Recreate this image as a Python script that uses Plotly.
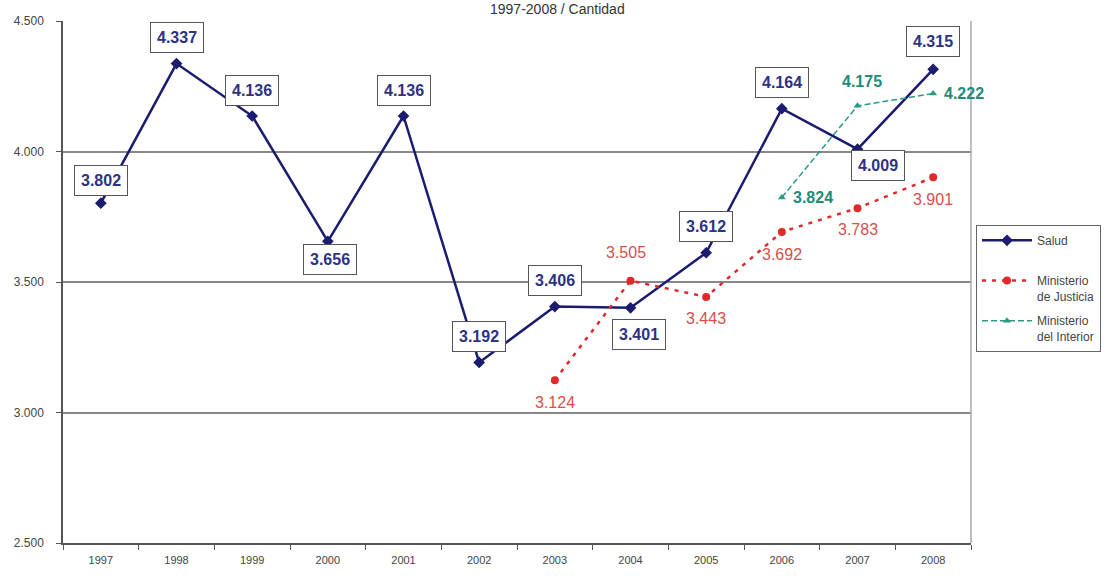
import plotly.graph_objects as go

years = ["1997", "1998", "1999", "2000", "2001", "2002", "2003", "2004", "2005", "2006", "2007", "2008"]
salud = [3802, 4337, 4136, 3656, 4136, 3192, 3406, 3401, 3612, 4164, 4009, 4315]
justicia_years = ["2003", "2004", "2005", "2006", "2007", "2008"]
justicia = [3124, 3505, 3443, 3692, 3783, 3901]
interior_years = ["2006", "2007", "2008"]
interior = [3824, 4175, 4222]
ytick_vals = [2500, 3000, 3500, 4000, 4500]

NAVY = "#1B1B70"
RED = "#E02A2A"
TEAL = "#2A9A88"
LBL_RED = "#D5504C"
LBL_TEAL = "#1F8C78"
FONT = "Liberation Sans, Arial"


def fmt(v):
    return f"{v:,}".replace(",", ".")


fig = go.Figure()
fig.add_trace(go.Scatter(
    x=years, y=salud, name="Salud<br> ", mode="lines+markers",
    line=dict(color=NAVY, width=2.5),
    marker=dict(symbol="diamond", size=9, color=NAVY),
    legendgroup="a",
))
fig.add_trace(go.Scatter(
    x=justicia_years, y=justicia, name="Ministerio<br>de Justicia", mode="lines+markers",
    line=dict(color=RED, width=2.5, dash="4px,6px"),
    marker=dict(symbol="circle", size=8, color=RED),
    legendgroup="b",
))
fig.add_trace(go.Scatter(
    x=interior_years, y=interior, name="Ministerio<br>del Interior", mode="lines+markers",
    line=dict(color=TEAL, width=1.5, dash="6px,3px"),
    marker=dict(symbol="triangle-up", size=7, color=TEAL),
    legendgroup="c",
))

# label offsets (pixels) for Salud boxes: (xshift, yshift)
salud_shift = [(0, 23), (0, 26), (0, 26), (2, -18), (0, 26), (0, 26),
               (0, 26), (8, -27), (0, 26), (0, 26), (20, -16), (0, 28)]
annotations = []
for yr, v, (dx, dy) in zip(years, salud, salud_shift):
    annotations.append(dict(
        x=years.index(yr), y=v, text=fmt(v), showarrow=False, xshift=dx, yshift=dy,
        font=dict(family=FONT, size=16, color="#2E3282", weight="bold"),
        bgcolor="white", bordercolor="#555555", borderwidth=1, borderpad=6,
    ))

just_shift = [(0, -22), (-5, 28), (0, -22), (0, -23), (0, -21), (0, -22)]
for yr, v, (dx, dy) in zip(justicia_years, justicia, just_shift):
    annotations.append(dict(
        x=years.index(yr), y=v, text=fmt(v), showarrow=False, xshift=dx, yshift=dy,
        font=dict(family=FONT, size=16, color=LBL_RED),
    ))

int_shift = [(9, 0, "left"), (4, 24, "center"), (9, 0, "left")]
for yr, v, (dx, dy, xa) in zip(interior_years, interior, int_shift):
    annotations.append(dict(
        x=years.index(yr), y=v, text=fmt(v), showarrow=False, xshift=dx, yshift=dy, xanchor=xa,
        font=dict(family=FONT, size=16, color=LBL_TEAL, weight="bold"),
    ))

annotations.append(dict(
    xref="paper", yref="paper", x=(557 - 63) / 908, y=1, yshift=12, yanchor="middle",
    text="1997-2008 / Cantidad", showarrow=False,
    font=dict(family=FONT, size=14, color="#333333"),
))

fig.update_layout(
    width=1114, height=576,
    margin=dict(l=63, r=143, t=21, b=33),
    paper_bgcolor="white", plot_bgcolor="white",
    separators=",.",
    font=dict(family=FONT, size=11, color="#444444"),
    showlegend=True,
    legend=dict(
        x=(976 - 63) / 908, xanchor="left", y=(543 - 225) / 522, yanchor="top",
        bordercolor="#666666", borderwidth=1, bgcolor="white",
        font=dict(size=12, color="#444444"), valign="top", tracegroupgap=6,
        itemwidth=50,
    ),
    annotations=annotations,
    shapes=[dict(type="line", xref="paper", yref="paper", x0=1, x1=1, y0=0, y1=1,
                 line=dict(color="#AAAAAA", width=1.5))],
)
fig.update_xaxes(
    type="category", range=[-0.5, 11.5], automargin=False,
    showline=True, linecolor="#555555", linewidth=1.5,
    ticks="outside", tickson="boundaries", ticklen=5, tickcolor="#555555",
    showgrid=False, tickfont=dict(size=11, color="#444444"),
    ticklabelstandoff=6,
)
fig.update_yaxes(
    range=[2500, 4500], tickvals=ytick_vals, tickformat=",", automargin=False,
    showline=True, linecolor="#555555", linewidth=1.5,
    ticks="outside", ticklen=5, tickcolor="#555555",
    showgrid=True, gridcolor="#888888", gridwidth=1.5, zeroline=False,
    tickfont=dict(size=12, color="#444444"),
    ticklabelstandoff=10,
)

fig.write_html("out.html")
